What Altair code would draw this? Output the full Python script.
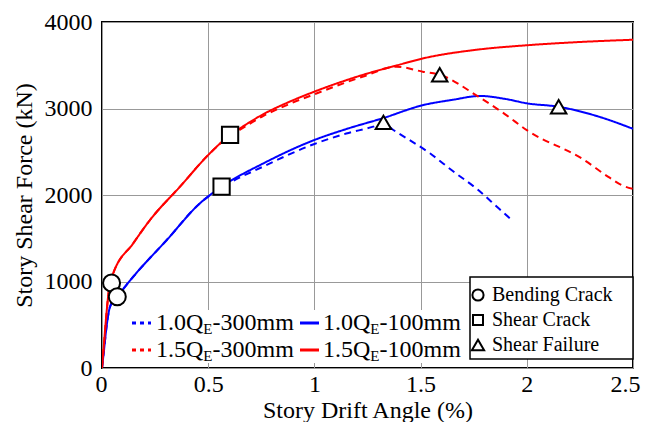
import altair as alt
import pandas as pd

# ---------------- data ----------------
series = ["1.0QE-300mm", "1.0QE-100mm", "1.5QE-300mm", "1.5QE-100mm"]

b300_x = [0, 0.01, 0.02, 0.038, 0.072, 0.147, 0.305, 0.461, 0.563, 0.76, 1.0, 1.15, 1.277, 1.325, 1.372, 1.544, 1.65, 1.77, 1.87, 1.93]
b300_y = [0, 220, 450, 709, 824, 1055, 1480, 1904, 2085, 2330, 2590, 2710, 2790, 2828, 2751, 2482, 2280, 2060, 1840, 1710]

b100_x = [0, 0.01, 0.02, 0.038, 0.072, 0.147, 0.305, 0.461, 0.563, 0.76, 1.0, 1.16, 1.32, 1.513, 1.65, 1.78, 1.9, 2.0, 2.15, 2.34, 2.5]
b100_y = [0, 220, 450, 709, 824, 1055, 1480, 1904, 2096, 2366, 2636, 2770, 2886, 3040, 3100, 3145, 3110, 3060, 3020, 2905, 2765]

r300_x = [0, 0.01, 0.02, 0.03, 0.04, 0.053, 0.147, 0.226, 0.367, 0.508, 0.603, 0.65, 0.76, 0.88, 1.0, 1.23, 1.387, 1.51, 1.59, 1.77, 1.9, 2.0, 2.26, 2.39, 2.45, 2.5]
r300_y = [0, 300, 600, 850, 1000, 1095, 1441, 1711, 2096, 2482, 2685, 2755, 2915, 3050, 3165, 3370, 3483, 3426, 3390, 3140, 2930, 2750, 2420, 2200, 2110, 2070]

r100_x = [0, 0.01, 0.02, 0.03, 0.04, 0.053, 0.147, 0.226, 0.367, 0.508, 0.603, 0.65, 0.76, 0.88, 1.0, 1.23, 1.39, 1.513, 1.77, 2.0, 2.26, 2.5]
r100_y = [0, 300, 600, 850, 1000, 1095, 1441, 1711, 2096, 2482, 2694, 2771, 2935, 3075, 3195, 3390, 3500, 3580, 3681, 3731, 3770, 3795]

kinds = ["Bending Crack", "Shear Crack", "Shear Failure"]
mk_x = [0.045, 0.072, 0.603, 0.563, 1.325, 1.59, 2.15]
mk_y = [983, 824, 2694, 2096, 2840, 3390, 3020]
mk_kind = ["Bending Crack", "Bending Crack", "Shear Crack", "Shear Crack",
           "Shear Failure", "Shear Failure", "Shear Failure"]

x_ticks = [0, 0.5, 1, 1.5, 2, 2.5]
y_ticks = [0, 1000, 2000, 3000, 4000]

# ---------------- tables ----------------
rows = []
for name, xs, ys in zip(series, [b300_x, b100_x, r300_x, r100_x], [b300_y, b100_y, r300_y, r100_y]):
    for i, (xv, yv) in enumerate(zip(xs, ys)):
        rows.append({"series": name, "drift": xv, "force": yv, "idx": i})
curves = pd.DataFrame(rows)
marks_df = pd.DataFrame({"drift": mk_x, "force": mk_y, "kind": mk_kind})

FONT = "Liberation Serif"
W, H = 531, 346
colors = ["#0000ff", "#0000ff", "#ff0000", "#ff0000"]
dashes = [[7, 5], [1, 0], [7, 5], [1, 0]]
shapes = ["circle", "square", "triangle-up"]

xscale = alt.Scale(domain=[0, 2.5], nice=False)
yscale = alt.Scale(domain=[0, 4000], nice=False)

lines = alt.Chart(curves).mark_line(strokeWidth=2, clip=True, interpolate="monotone").encode(
    x=alt.X("drift:Q", scale=xscale,
            axis=alt.Axis(values=x_ticks, format="~g", title="Story Drift Angle (%)",
                          labelFlush=True, labelFlushOffset=7, labelPadding=4, titlePadding=2)),
    y=alt.Y("force:Q", scale=yscale,
            axis=alt.Axis(values=y_ticks, format="d", title="Story Shear Force (kN)",
                          labelPadding=10, titlePadding=8)),
    color=alt.Color("series:N", scale=alt.Scale(domain=series, range=colors), legend=None),
    strokeDash=alt.StrokeDash("series:N", scale=alt.Scale(domain=series, range=dashes), legend=None),
    detail="series:N",
    order="idx:Q",
)

points = alt.Chart(marks_df).mark_point(filled=True, fill="white", stroke="black",
                                        strokeWidth=2, opacity=1, fillOpacity=1).encode(
    x=alt.X("drift:Q", scale=xscale),
    y=alt.Y("force:Q", scale=yscale),
    shape=alt.Shape("kind:N", scale=alt.Scale(domain=kinds, range=shapes), legend=None),
    size=alt.Size("kind:N", scale=alt.Scale(domain=kinds, range=[289, 240, 300]), legend=None),
)

one = pd.DataFrame({"a": [0]})
layers = [lines, points]

# ----- line legend (lower left, inside plot) -----
layers.append(alt.Chart(one).mark_rect(fill="white").encode(
    x=alt.value(26), x2=alt.value(364), y=alt.value(288), y2=alt.value(341)))
leg_cols = [30, 198]
leg_rows = [301, 328]
for k, name in enumerate(series):
    col = 0 if name.endswith("300mm") else 1
    row = 0 if name.startswith("1.0") else 1
    x0 = leg_cols[col]
    y0 = leg_rows[row]
    dash = [4, 4] if col == 0 else [1, 0]
    layers.append(alt.Chart(one).mark_rule(color=colors[k], strokeWidth=3, strokeDash=dash).encode(
        x=alt.value(x0), x2=alt.value(x0 + 19), y=alt.value(y0), y2=alt.value(y0)))
    tx = x0 + 24 if col == 0 else x0 + 23
    pre = name[:4]
    post = name[5:]
    layers.append(alt.Chart(one).mark_text(text=pre, font=FONT, fontSize=24, align="left",
                                           baseline="middle", color="black").encode(
        x=alt.value(tx), y=alt.value(y0)))
    layers.append(alt.Chart(one).mark_text(text="E", font=FONT, fontSize=15, align="left",
                                           baseline="middle", color="black").encode(
        x=alt.value(tx + 47.3), y=alt.value(y0 + 6)))
    layers.append(alt.Chart(one).mark_text(text=post, font=FONT, fontSize=24, align="left",
                                           baseline="middle", color="black").encode(
        x=alt.value(tx + 56.5), y=alt.value(y0)))

# ----- marker legend (lower right box) -----
layers.append(alt.Chart(one).mark_rect(fill="white", stroke="black", strokeWidth=1.5).encode(
    x=alt.value(368), x2=alt.value(531), y=alt.value(255), y2=alt.value(337)))
mk_rows = [273, 298, 323]
mk_sizes = [125, 100, 150]
for k, kind in enumerate(kinds):
    layers.append(alt.Chart(one).mark_point(shape=shapes[k], size=mk_sizes[k], filled=True,
                                            fill="white", stroke="black", strokeWidth=2,
                                            opacity=1).encode(
        x=alt.value(376), y=alt.value(mk_rows[k])))
    layers.append(alt.Chart(one).mark_text(text=kind, font=FONT, fontSize=20, align="left",
                                           baseline="middle", color="black").encode(
        x=alt.value(390), y=alt.value(mk_rows[k])))

chart = alt.layer(*layers).properties(
    width=W, height=H,
    autosize=alt.AutoSizeParams(type="none"),
    padding={"left": 94, "top": 14, "right": 8, "bottom": 54},
).configure_view(
    stroke="black", strokeWidth=2
).configure_axis(
    labelFont=FONT, titleFont=FONT, labelFontSize=24, titleFontSize=24,
    labelColor="black", titleColor="black", titleFontWeight="normal",
    gridColor="#999999", gridWidth=1, gridOpacity=1,
    domain=False, ticks=False, tickSize=0, labelOverlap=False,
)

chart.save("out.html", embed_options={"renderer": "svg", "actions": False})
